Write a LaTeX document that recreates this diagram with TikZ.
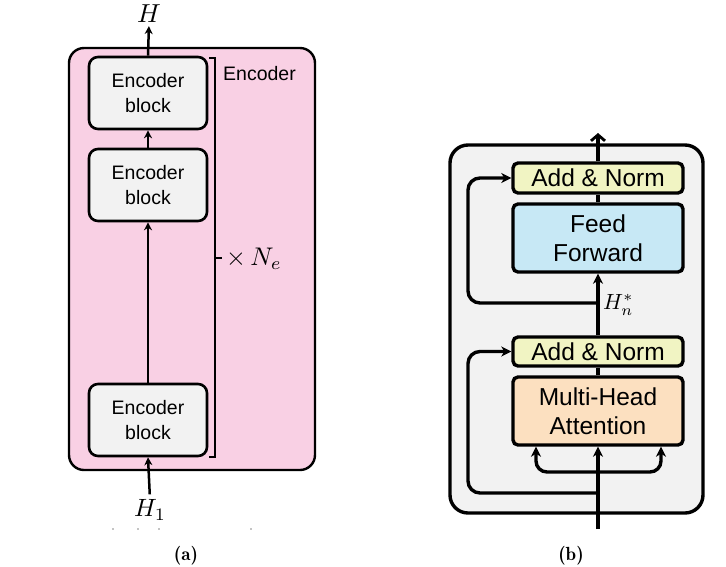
\documentclass[tikz,border=0pt]{standalone}
\usepackage{fontspec}
\setmainfont{Liberation Sans}
\newcommand{\capfont}{\normalsize\fontfamily{lmr}\fontseries{b}\fontshape{n}\selectfont}
\usetikzlibrary{arrows.meta,calc}
\definecolor{pinkfill}{HTML}{F9D0E4}
\definecolor{blockfill}{HTML}{F2F2F2}
\definecolor{normfill}{HTML}{F1F4C3}
\definecolor{fffill}{HTML}{C7E8F5}
\definecolor{mhafill}{HTML}{FCE0C0}
\tikzset{
  panelA/.style={draw=black, line width=2.4pt, fill=pinkfill, rounded corners=15pt, inner sep=0pt},
  encblock/.style={draw=black, line width=2.6pt, fill=blockfill, rounded corners=9pt, minimum width=118pt, minimum height=72pt, inner sep=0pt, align=center, font=\fontsize{19.5}{25}\selectfont},
  arrA/.style={line width=2.5pt, -{Stealth[length=8pt,width=8pt]}},
  plainA/.style={line width=2.4pt},
  mathlbl/.style={inner sep=0pt, font=\normalsize},
  panelB/.style={draw=black, line width=3.4pt, fill=blockfill, rounded corners=18pt, inner sep=0pt},
  sublayer/.style={draw=black, line width=3.4pt, rounded corners=5pt, minimum width=170pt, inner sep=0pt, align=center, font=\fontsize{24.5}{29}\selectfont},
  arrB/.style={line width=3.4pt, -{Stealth[length=10pt,width=10pt,inset=3pt]}},
  plainB/.style={line width=3.4pt},
  topB/.style={line width=3.4pt, -{Straight Barb[length=6pt,width=14pt,line width=2.8pt]}},
  captxt/.style={font=\capfont, inner sep=0pt}
}
\begin{document}
\begin{tikzpicture}[x=1pt,y=-1pt]
\useasboundingbox (0,0) rectangle (726,566);
% ---------------- panel (a)
\node[panelA, minimum width=246pt, minimum height=422pt] (encbox) at (192,259) {};
\node[encblock] (b1) at (148,93) {Encoder\\block};
\node[encblock] (b2) at (148,185) {Encoder\\block};
\node[encblock] (b3) at (148,420) {Encoder\\block};
\node[mathlbl] (Hout) at (149,14) {\scalebox{2.6}{$H$}};
\node[mathlbl] (Hin) at (150,510) {\scalebox{2.5}{$H_1$}};
\draw[arrA, shorten >=3pt] (b1.north) -- (Hout.south);
\draw[arrA] (b2.north) -- (b1.south);
\draw[arrA] (b3.north) -- (b2.south);
\draw[arrA, shorten <=5pt] (Hin.north) -- (b3.south);
% bracket
\coordinate (brt) at (215,58);
\coordinate (brb) at (215,457);
\coordinate (brm) at (215,258);
\draw[plainA] ($(brt)+(-6,0)$) -- (brt) -- (brb) -- ($(brb)+(-6,0)$);
\draw[plainA] (brm) -- ++(7,0);
\node[anchor=west, mathlbl] (ne) at (226,259) {\scalebox{2.55}{$\times\,N_e$}};
\node[anchor=west, inner sep=0pt, font=\fontsize{19.5}{25}\selectfont] (enclbl) at (223,74) {Encoder};
% stray dots
\foreach \i/\xx in {1/113,2/138,3/159,4/251}{\fill (\xx,529) circle (0.7pt);}
\node[captxt] (capa) at (186,556) {\scalebox{1.9}{(a)}};
% ---------------- panel (b)
\node[panelB, minimum width=253pt, minimum height=368pt] (layer) at (576.5,329) {};
\node[sublayer, fill=normfill, minimum height=30pt] (an2) at (598,178) {Add \& Norm};
\node[sublayer, fill=fffill, minimum height=68pt] (ff) at (598,238) {Feed\\Forward};
\node[sublayer, fill=normfill, minimum height=29pt] (an1) at (598,351.5) {Add \& Norm};
\node[sublayer, fill=mhafill, minimum height=68pt] (mha) at (598,411) {Multi-Head\\Attention};
\coordinate (inB) at (598,529);
\coordinate (outB) at (598,133);
\coordinate (split) at (598,472);
\coordinate (res1) at (598,493);
\coordinate (res2) at (598,303);
\draw[arrB] (inB) -- (mha.south);
\draw[plainB] (mha.north) -- (an1.south);
\draw[arrB] (an1.north) -- (ff.south);
\draw[plainB] (ff.north) -- (an2.south);
\draw[topB] (an2.north) -- (outB);
\draw[arrB, rounded corners=12pt] (res1) -- (468,493) |- (an1.west);
\draw[arrB, rounded corners=12pt] (res2) -- (468,303) |- (an2.west);
\draw[arrB, rounded corners=11pt] (split) -| ($(mha.south)+(-62,0)$);
\draw[arrB, rounded corners=11pt] (split) -| ($(mha.south)+(63,0)$);
\node[anchor=west, mathlbl] (hn) at (603,305) {\scalebox{2.2}{$H_n^*$}};
\node[captxt] (capb) at (571,556) {\scalebox{1.9}{(b)}};
\end{tikzpicture}
\end{document}
